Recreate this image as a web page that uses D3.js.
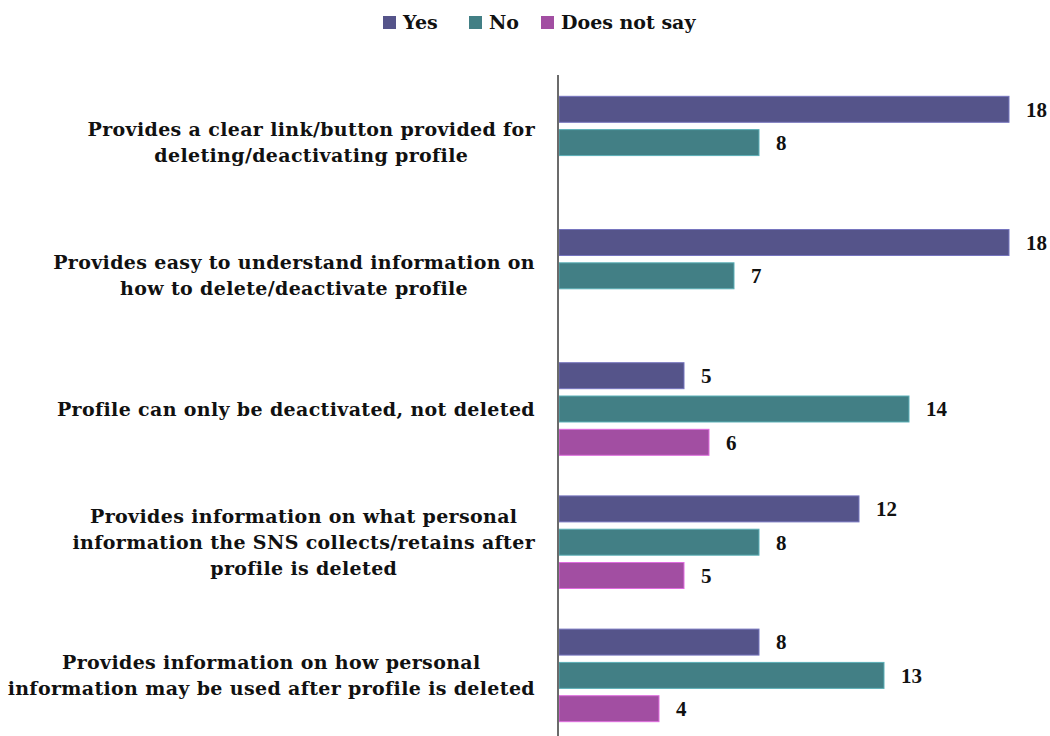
<!DOCTYPE html>
<html>
<head>
<meta charset="utf-8">
<script src="https://cdn.jsdelivr.net/npm/d3@7"></script>
<style>
  body { margin: 0; background: #fff; }
  svg { display: block; font-family: "DejaVu Serif", serif; font-weight: bold; }
</style>
</head>
<body>
<div class="chart"></div>
<script>
// chart values
const categories = [
  ["Provides a clear link/button provided for", "deleting/deactivating profile"],
  ["Provides easy to understand information on", "how to delete/deactivate profile"],
  ["Profile can only be deactivated, not deleted"],
  ["Provides information on what personal", "information the SNS collects/retains after", "profile is deleted"],
  ["Provides information on how personal", "information may be used after profile is deleted"]
];
const seriesNames = ["Yes", "No", "Does not say"];
const yesValues = [18, 18, 5, 12, 8];
const noValues = [8, 7, 14, 8, 13];
const doesNotSayValues = [null, null, 6, 5, 4];
const colors = ["#55548a", "#427f85", "#a24ea2"];

const w = 1050;
const h = 736;

const svg = d3.select(".chart")
  .append("svg")
  .attr("width", w)
  .attr("height", h);

const rows = categories.map((c, i) => ({
  label: c,
  values: [yesValues[i], noValues[i], doesNotSayValues[i]]
}));

const xScale = d3.scaleLinear().domain([0, 20]).range([559, 1059]);

const yScale = d3.scaleBand()
  .domain(d3.range(categories.length))
  .range([76, 742])
  .paddingInner(0.25)
  .paddingOuter(0.125);

const subScale = d3.scaleBand()
  .domain(d3.range(seriesNames.length))
  .range([0, yScale.bandwidth()])
  .paddingInner(0.22)
  .paddingOuter(0.11);

// bars
const groups = svg.selectAll("g.group")
  .data(rows)
  .enter()
  .append("g")
  .attr("class", "group")
  .attr("transform", (d, i) => "translate(0," + yScale(i) + ")");

groups.selectAll("rect")
  .data((d) => d.values.map((v, s) => ({ v: v, s: s })).filter((e) => e.v != null))
  .enter()
  .append("rect")
  .attr("x", xScale(0))
  .attr("y", (d) => subScale(d.s))
  .attr("width", (d) => xScale(d.v) - xScale(0))
  .attr("height", subScale.bandwidth())
  .attr("fill", (d) => colors[d.s])
  .attr("stroke", (d) => d3.color(colors[d.s]).brighter(0.9))
  .attr("stroke-width", 1);

groups.selectAll("text.value")
  .data((d) => d.values.map((v, s) => ({ v: v, s: s })).filter((e) => e.v != null))
  .enter()
  .append("text")
  .attr("class", "value")
  .attr("x", (d) => xScale(d.v) + 17)
  .attr("y", (d) => subScale(d.s) + subScale.bandwidth() / 2)
  .attr("dy", "0.35em")
  .attr("font-family", "Liberation Serif, serif")
  .attr("font-size", 21)
  .attr("fill", "#111")
  .text((d) => d.v);

// axis line
svg.append("line")
  .attr("x1", xScale(0) - 1)
  .attr("x2", xScale(0) - 1)
  .attr("y1", 75)
  .attr("y2", h)
  .attr("stroke", "#6b6b6b")
  .attr("stroke-width", 2);

// category labels, centered lines in a right-aligned block
const labelRight = 535;
const lineH = 26;
rows.forEach((row, i) => {
  const cy = yScale(i) + yScale.bandwidth() / 2;
  const g = svg.append("g");
  const texts = row.label.map((line, k) =>
    g.append("text")
      .attr("font-size", 19)
      .attr("letter-spacing", 0.35)
      .attr("fill", "#111")
      .attr("text-anchor", "middle")
      .attr("y", cy + (k - (row.label.length - 1) / 2) * lineH)
      .attr("dy", "0.35em")
      .text(line)
  );
  const maxW = d3.max(texts, (t) => t.node().getComputedTextLength());
  texts.forEach((t) => t.attr("x", labelRight - maxW / 2));
});

// legend
const legendX = [383, 469, 541];
const legend = svg.append("g");
seriesNames.forEach((name, i) => {
  legend.append("rect")
    .attr("x", legendX[i])
    .attr("y", 16)
    .attr("width", 13)
    .attr("height", 13)
    .attr("fill", colors[i]);
  legend.append("text")
    .attr("x", legendX[i] + 20)
    .attr("y", 22)
    .attr("dy", "0.35em")
    .attr("font-size", 19)
    .attr("fill", "#111")
    .text(name);
});
</script>
</body>
</html>
